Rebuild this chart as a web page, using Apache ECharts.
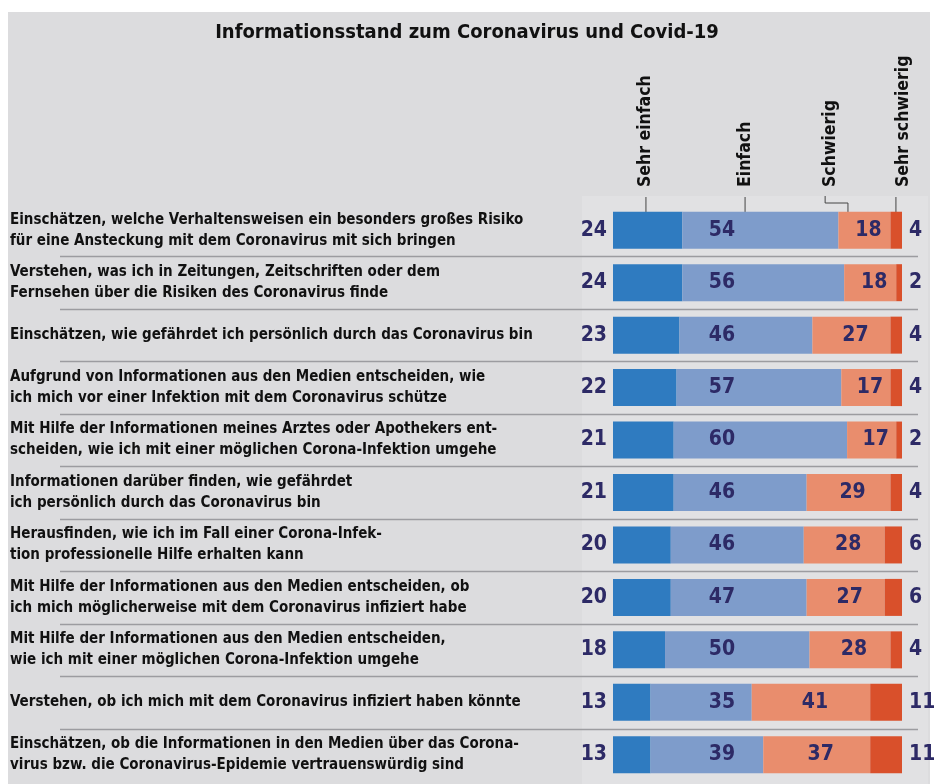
<!DOCTYPE html>
<html>
<head>
<meta charset="utf-8">
<script src="https://cdn.jsdelivr.net/npm/echarts@6/dist/echarts.min.js"></script>
<style>
  html, body { margin: 0; padding: 0; background: #fff; }
  #bg { position: absolute; left: 8px; top: 12px; width: 922px; height: 772px; background: #dcdcde; }
  #chart { position: absolute; left: 0; top: 0; width: 934px; height: 784px; }
</style>
</head>
<body>
<div id="bg"></div>
<div id="chart"></div>
<script>
const categories = [
  "Einschätzen, welche Verhaltensweisen ein besonders großes Risiko\nfür eine Ansteckung mit dem Coronavirus mit sich bringen",
  "Verstehen, was ich in Zeitungen, Zeitschriften oder dem\nFernsehen über die Risiken des Coronavirus finde",
  "Einschätzen, wie gefährdet ich persönlich durch das Coronavirus bin",
  "Aufgrund von Informationen aus den Medien entscheiden, wie\nich mich vor einer Infektion mit dem Coronavirus schütze",
  "Mit Hilfe der Informationen meines Arztes oder Apothekers ent-\nscheiden, wie ich mit einer möglichen Corona-Infektion umgehe",
  "Informationen darüber finden, wie gefährdet\nich persönlich durch das Coronavirus bin",
  "Herausfinden, wie ich im Fall einer Corona-Infek-\ntion professionelle Hilfe erhalten kann",
  "Mit Hilfe der Informationen aus den Medien entscheiden, ob\nich mich möglicherweise mit dem Coronavirus infiziert habe",
  "Mit Hilfe der Informationen aus den Medien entscheiden,\nwie ich mit einer möglichen Corona-Infektion umgehe",
  "Verstehen, ob ich mich mit dem Coronavirus infiziert haben könnte",
  "Einschätzen, ob die Informationen in den Medien über das Corona-\nvirus bzw. die Coronavirus-Epidemie vertrauenswürdig sind"
];
const seriesNames = ["Sehr einfach", "Einfach", "Schwierig", "Sehr schwierig"];
const sehrEinfach = [24, 24, 23, 22, 21, 21, 20, 20, 18, 13, 13];
const einfach = [54, 56, 46, 57, 60, 46, 46, 47, 50, 35, 39];
const schwierig = [18, 18, 27, 17, 17, 29, 28, 27, 28, 41, 37];
const sehrSchwierig = [4, 2, 4, 4, 2, 4, 6, 6, 4, 11, 11];

// layout in pixels
const barLeft = 613, barRight = 902, lineLeft = 60, lineRight = 918;
const pxPerUnit = (barRight - barLeft) / 100;
const xMin = -(barLeft - lineLeft) / pxPerUnit;
const xMax = 100 + (lineRight - barRight) / pxPerUnit;
const einfachLabelAt = 37.7;   // the "Einfach" numbers sit in one column
const headerAt = [11.4, 45.7, 75.1, 100.6];
const colors = ["#2f7bc0", "#7e9ccb", "#e98d6d", "#d9502b"];
const condensed = "DejaVu Sans Condensed";
const numFont = { fontFamily: condensed, fontWeight: "bold", fontSize: 21, color: "#2d2a66" };

const chart = echarts.init(document.getElementById("chart"));
chart.setOption({
  backgroundColor: "transparent",
  animation: false,
  title: {
    text: "Informationsstand zum Coronavirus und Covid-19",
    left: "center",
    top: 18,
    textStyle: { fontFamily: condensed, fontWeight: "bold", fontSize: 20, color: "#111" }
  },
  grid: { left: lineLeft, right: 934 - lineRight, top: 204, bottom: 3, containLabel: false },
  xAxis: {
    type: "value", min: xMin, max: xMax,
    axisLine: { show: false }, axisTick: { show: false }, axisLabel: { show: false }, splitLine: { show: false }
  },
  yAxis: {
    type: "category",
    inverse: true,
    data: categories,
    axisLine: { show: false },
    axisTick: { show: false },
    axisLabel: {
      align: "left", margin: lineLeft - 10,
      fontFamily: condensed, fontWeight: "bold", fontSize: 15, lineHeight: 21, color: "#111"
    },
    splitLine: { show: false }
  },
  series: [
    {
      name: seriesNames[0], type: "bar", stack: "t", barWidth: 37,
      data: sehrEinfach,
      itemStyle: { color: colors[0] },
      label: Object.assign({ show: true, position: "left", distance: 6 }, numFont)
    },
    {
      name: seriesNames[1], type: "bar", stack: "t", barWidth: 37,
      data: einfach.map((v, i) => ({
        value: v,
        label: { position: [(einfachLabelAt - sehrEinfach[i]) * pxPerUnit, "50%"] }
      })),
      itemStyle: { color: colors[1] },
      label: Object.assign({ show: true, align: "center", verticalAlign: "middle" }, numFont)
    },
    {
      name: seriesNames[2], type: "bar", stack: "t", barWidth: 37,
      data: schwierig,
      itemStyle: { color: colors[2] },
      label: Object.assign({ show: true, position: "inside", offset: [4, 0] }, numFont)
    },
    {
      name: seriesNames[3], type: "bar", stack: "t", barWidth: 37,
      data: sehrSchwierig,
      itemStyle: { color: colors[3] },
      label: Object.assign({ show: true, position: "right", distance: 7 }, numFont)
    }
  ]
});

const px = v => chart.convertToPixel({ xAxisIndex: 0 }, v);
const py = i => chart.convertToPixel({ yAxisIndex: 0 }, i);
const graphics = [];

// lighter panel behind the bars (scanned print look)
graphics.push({
  type: "rect", z: -10, silent: true,
  shape: { x: 582, y: 196, width: 346, height: 588 },
  style: { fill: "#e1e1e3" }
});

// row separators between neighbouring categories
for (let i = 1; i < categories.length; i++) {
  const y = Math.round((py(i - 1) + py(i)) / 2) + 0.5;
  graphics.push({
    type: "line", z: -5, silent: true,
    shape: { x1: lineLeft, y1: y, x2: lineRight, y2: y },
    style: { stroke: "#9c9ca0", lineWidth: 1.5 }
  });
}

// column headers and their pointer lines
const headerBottom = 187;
const lineStyle = { stroke: "#444", lineWidth: 1 };
seriesNames.forEach((name, i) => graphics.push({
  type: "text",
  x: px(headerAt[i]),
  y: headerBottom,
  rotation: Math.PI / 2,
  style: {
    text: name, fill: "#111", align: "left", verticalAlign: "middle",
    font: 'bold 17.5px "DejaVu Sans Condensed"'
  }
}));
graphics.push(
  { type: "polyline", shape: { points: [[px(11.4), 197], [px(11.4), 222]] }, style: lineStyle },
  { type: "polyline", shape: { points: [[px(45.7), 197], [px(45.7), 222]] }, style: lineStyle },
  { type: "polyline", shape: { points: [[px(73.4), 196], [px(73.4), 203], [px(81.3), 203], [px(81.3), 218]] }, style: lineStyle },
  { type: "polyline", shape: { points: [[px(97.9), 197], [px(97.9), 213]] }, style: lineStyle }
);
// unit marker inside the first bar
const firstRow = chart.convertToPixel({ gridIndex: 0 }, [0, 0]);
graphics.push({
  type: "text", x: firstRow[0] + 7, y: firstRow[1],
  style: { text: "%", fill: "#c9cbef", align: "left", verticalAlign: "middle", font: 'bold 19px "DejaVu Sans Condensed"' }
});
chart.setOption({ graphic: graphics });
</script>
</body>
</html>
